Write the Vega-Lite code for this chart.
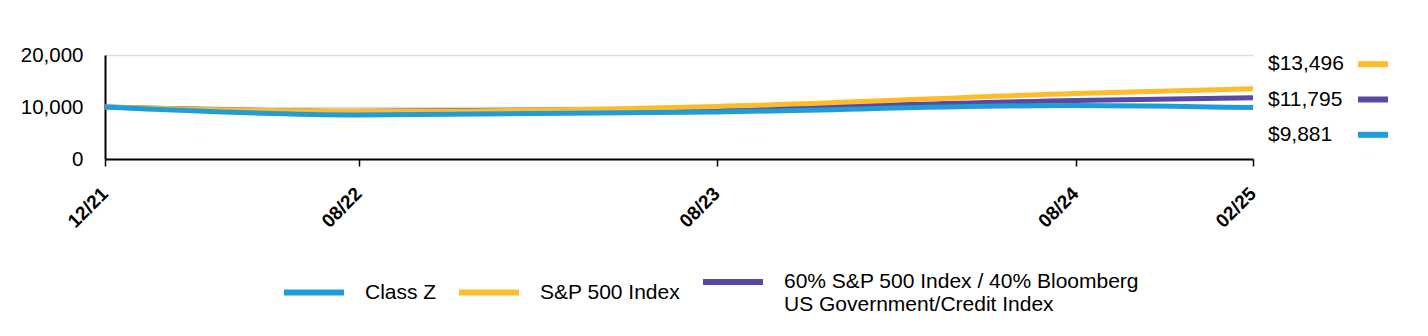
{
  "$schema": "https://vega.github.io/schema/vega-lite/v6.json",
  "background": "white",
  "padding": {"left": 20, "top": 45, "right": 5, "bottom": 5},
  "config": {
    "view": {"stroke": null},
    "font": "Liberation Sans",
    "legend": {"layout": {"bottom": {"anchor": "middle"}}}
  },
  "data": {"values": [
    {"series": "60% S&P 500 Index / 40% Bloomberg US Government/Credit Index", "date": "2021-12-15", "value": 10000},
    {"series": "60% S&P 500 Index / 40% Bloomberg US Government/Credit Index", "date": "2022-08-31", "value": 9200},
    {"series": "60% S&P 500 Index / 40% Bloomberg US Government/Credit Index", "date": "2023-08-31", "value": 9650},
    {"series": "60% S&P 500 Index / 40% Bloomberg US Government/Credit Index", "date": "2024-08-31", "value": 11250},
    {"series": "60% S&P 500 Index / 40% Bloomberg US Government/Credit Index", "date": "2025-02-28", "value": 11795},
    {"series": "S&P 500 Index", "date": "2021-12-15", "value": 10000},
    {"series": "S&P 500 Index", "date": "2022-08-31", "value": 9140},
    {"series": "S&P 500 Index", "date": "2023-08-31", "value": 10100},
    {"series": "S&P 500 Index", "date": "2024-08-31", "value": 12600},
    {"series": "S&P 500 Index", "date": "2025-02-28", "value": 13496},
    {"series": "Class Z", "date": "2021-12-15", "value": 10000},
    {"series": "Class Z", "date": "2022-08-31", "value": 8480},
    {"series": "Class Z", "date": "2023-08-31", "value": 9060},
    {"series": "Class Z", "date": "2024-08-31", "value": 10300},
    {"series": "Class Z", "date": "2025-02-28", "value": 9881}
  ]},
  "spacing": 5,
  "hconcat": [
    {
      "width": 1148,
      "height": 104,
      "mark": {"type": "line", "strokeWidth": 5, "interpolate": "monotone", "strokeCap": "butt"},
      "encoding": {
        "x": {
          "field": "date", "type": "temporal",
          "scale": {"type": "utc", "domain": [
            {"year": 2021, "month": 12, "date": 15, "utc": true},
            {"year": 2025, "month": 2, "date": 28, "utc": true}]},
          "axis": {
            "values": [
              {"year": 2021, "month": 12, "date": 15, "utc": true},
              {"year": 2022, "month": 8, "date": 31, "utc": true},
              {"year": 2023, "month": 8, "date": 31, "utc": true},
              {"year": 2024, "month": 8, "date": 31, "utc": true},
              {"year": 2025, "month": 2, "date": 28, "utc": true}],
            "format": "%m/%y", "labelAngle": -45, "labelFontSize": 19, "labelFontWeight": "bold",
            "labelColor": "black", "domainColor": "black", "domainWidth": 2, "tickColor": "black",
            "tickSize": 7, "tickWidth": 1.5, "grid": false, "title": null, "labelPadding": 18,
            "labelOffset": -7
          }
        },
        "y": {
          "field": "value", "type": "quantitative",
          "scale": {"domain": [0, 20000]},
          "axis": {
            "values": [0, 10000, 20000], "format": ",.0f", "labelFontSize": 20.5, "labelColor": "black",
            "ticks": false, "labelPadding": 22, "domainColor": "black", "domainWidth": 2,
            "gridColor": "#dddddd", "gridWidth": 1.5, "title": null
          }
        },
        "color": {
          "field": "series", "type": "nominal",
          "scale": {
            "domain": ["Class Z", "S&P 500 Index", "60% S&P 500 Index / 40% Bloomberg US Government/Credit Index"],
            "range": ["#1F9DD9", "#FDBD2A", "#5B48A2"]
          },
          "legend": {
            "title": null, "orient": "bottom", "direction": "horizontal", "symbolType": "stroke",
            "symbolStrokeWidth": 6, "symbolSize": 3600, "labelFontSize": 21,
            "labelColor": "black", "columnPadding": 10, "labelOffset": 18, "labelLimit": 800,
            "offset": 17,
            "labelExpr": "indexof(datum.label, 'Bloomberg') >= 0 ? ['60% S&P 500 Index / 40% Bloomberg', 'US Government/Credit Index'] : datum.label"
          }
        }
      }
    },
    {
      "width": 105,
      "height": 89,
      "transform": [{"filter": "utcyear(datum.date) == 2025"}],
      "encoding": {
        "y": {
          "field": "series", "type": "nominal",
          "sort": {"field": "value", "op": "max", "order": "descending"},
          "scale": {"type": "point", "padding": 0.26}, "axis": null
        }
      },
      "layer": [
        {
          "mark": {"type": "text", "align": "left", "baseline": "middle", "fontSize": 21, "color": "black"},
          "encoding": {
            "x": {"datum": "label", "type": "nominal", "scale": {"type": "point", "domain": ["label", "swatch"], "padding": 0}, "axis": null},
            "text": {"field": "value", "type": "quantitative", "format": "$,"}
          }
        },
        {
          "mark": {"type": "point", "shape": "stroke", "size": 900, "strokeWidth": 6, "filled": false, "opacity": 1},
          "encoding": {
            "x": {"datum": "swatch", "type": "nominal"},
            "color": {"field": "series", "type": "nominal", "legend": null}
          }
        }
      ]
    }
  ]
}
